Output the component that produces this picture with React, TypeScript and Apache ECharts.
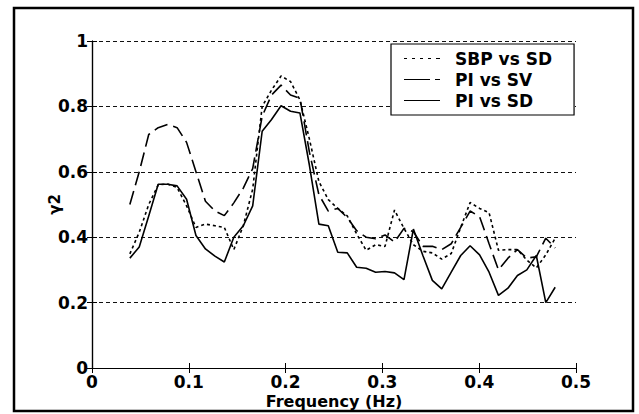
import React, { useEffect, useRef } from "react";
import * as echarts from "echarts";

const freq = [
  0.0391, 0.0488, 0.0586, 0.0684, 0.0781, 0.0879, 0.0977, 0.1074, 0.1172, 0.127,
  0.1367, 0.1465, 0.1563, 0.166, 0.1758, 0.1855, 0.1953, 0.2051, 0.2148, 0.2246,
  0.2344, 0.2441, 0.2539, 0.2637, 0.2734, 0.2832, 0.293, 0.3027, 0.3125, 0.3223,
  0.332, 0.3418, 0.3516, 0.3613, 0.3711, 0.3809, 0.3906, 0.4004, 0.4102, 0.4199,
  0.4297, 0.4395, 0.4492, 0.459, 0.4688, 0.4785,
];

const sbpSd = [
  0.349, 0.415, 0.5, 0.56, 0.563, 0.552, 0.496, 0.43, 0.44, 0.435,
  0.43, 0.362, 0.435, 0.547, 0.8, 0.85, 0.893, 0.876, 0.82, 0.7,
  0.57, 0.515, 0.488, 0.465, 0.41, 0.36, 0.377, 0.372, 0.483, 0.427,
  0.377, 0.357, 0.352, 0.333, 0.35, 0.43, 0.506, 0.488, 0.475, 0.36,
  0.362, 0.362, 0.33, 0.306, 0.346, 0.397,
];

const piSv = [
  0.5, 0.6, 0.714, 0.735, 0.745, 0.735, 0.69, 0.6, 0.51, 0.48,
  0.466, 0.505, 0.55, 0.61, 0.77, 0.835, 0.865, 0.835, 0.825, 0.66,
  0.53, 0.48, 0.488, 0.46, 0.42, 0.4, 0.395, 0.407, 0.385, 0.427,
  0.417, 0.372, 0.372, 0.362, 0.38, 0.43, 0.48, 0.463, 0.38, 0.3,
  0.336, 0.362, 0.336, 0.34, 0.397, 0.367,
];

const piSd = [
  0.336, 0.37, 0.465, 0.562, 0.562, 0.557, 0.516, 0.405, 0.364, 0.342,
  0.324, 0.4, 0.435, 0.496, 0.724, 0.76, 0.802, 0.785, 0.78, 0.62,
  0.44, 0.435, 0.354, 0.352, 0.308, 0.305, 0.293, 0.295, 0.291, 0.27,
  0.425, 0.344, 0.268, 0.242, 0.293, 0.344, 0.374, 0.346, 0.293, 0.222,
  0.244, 0.283, 0.3, 0.344, 0.2, 0.247,
];

const seriesNames = ["SBP vs SD", "PI vs SV", "PI vs SD"];

const FONT = "DejaVu Sans";

// legend sample glyphs (filled strips, stretched to itemWidth x itemHeight)
const iconDotted =
  "path://M0,0h3v1h-3zM8,0h3v1h-3zM16,0h3v1h-3zM24,0h3v1h-3zM32,0h4v1h-4z";
const iconDashed = "path://M0,0h26v1h-26zM31,0h5v1h-5z";
const iconSolid = "path://M0,0h36v1h-36z";

export default function App() {
  const ref = useRef<HTMLDivElement>(null);

  useEffect(() => {
    document.body.style.margin = "0";
    if (!ref.current) return;
    const chart = echarts.init(ref.current, undefined, { renderer: "svg" });

    const mk = (arr: number[]) => freq.map((f, i) => [f, arr[i]]);
    const axisLabel = {
      fontFamily: FONT,
      fontWeight: "bold" as const,
      fontSize: 17,
      color: "#000",
    };
    const LW = 1.6;

    chart.setOption({
      animation: false,
      backgroundColor: "#fff",
      graphic: [
        {
          type: "rect",
          silent: true,
          shape: { x: 14, y: 8, width: 619, height: 403 },
          style: { fill: "none", stroke: "#000", lineWidth: 2.5 },
        },
      ],
      grid: { left: 92, right: 63, top: 41, bottom: 43 },
      legend: {
        data: [
          { name: seriesNames[0], icon: iconDotted },
          { name: seriesNames[1], icon: iconDashed },
          { name: seriesNames[2], icon: iconSolid },
        ],
        orient: "vertical",
        left: 391,
        top: 44,
        padding: [6, 22, 6, 13],
        itemGap: 4,
        itemWidth: 36,
        itemHeight: 1.6,
        itemStyle: { color: "#000", borderWidth: 0 },
        borderColor: "#000",
        borderWidth: 1.2,
        backgroundColor: "#fff",
        textStyle: {
          fontFamily: FONT,
          fontWeight: "bold",
          fontSize: 17,
          color: "#000",
          padding: [0, 0, 0, 10],
        },
      },
      xAxis: [
        {
          type: "value",
          min: 0,
          max: 0.5,
          interval: 0.1,
          name: "Frequency (Hz)",
          nameLocation: "middle",
          nameGap: 25,
          nameMoveOverlap: false,
          nameTextStyle: { fontFamily: FONT, fontWeight: "bold", fontSize: 16, color: "#000" },
          axisLine: { show: true, lineStyle: { color: "#000", width: 1.2 } },
          axisTick: { show: true, inside: true, length: 5, lineStyle: { color: "#000" } },
          axisLabel: { ...axisLabel, margin: 5 },
          splitLine: { show: false },
        },
        {
          type: "value",
          position: "top",
          min: 0,
          max: 0.5,
          interval: 0.1,
          axisLine: { show: true, lineStyle: { color: "#000", width: 1.2 } },
          axisTick: { show: true, inside: true, length: 5, lineStyle: { color: "#000" } },
          axisLabel: { show: false },
          splitLine: { show: false },
        },
      ],
      yAxis: [
        {
          type: "value",
          min: 0,
          max: 1,
          interval: 0.2,
          name: "γ2",
          nameLocation: "middle",
          nameGap: 30,
          nameRotate: 90,
          nameMoveOverlap: false,
          nameTextStyle: { fontFamily: FONT, fontWeight: "bold", fontSize: 15, color: "#000" },
          axisLine: { show: true, lineStyle: { color: "#000", width: 1.2 } },
          axisTick: { show: true, inside: true, length: 5, lineStyle: { color: "#000" } },
          axisLabel: { ...axisLabel, margin: 4 },
          splitLine: {
            show: true,
            lineStyle: { color: "#111", width: 1.2, type: [4, 3] },
          },
        },
        {
          type: "value",
          position: "right",
          min: 0,
          max: 1,
          interval: 0.2,
          axisLine: { show: true, lineStyle: { color: "#000", width: 1.2 } },
          axisTick: { show: true, inside: true, length: 5, lineStyle: { color: "#000" } },
          axisLabel: { show: false },
          splitLine: { show: false },
        },
      ],
      series: [
        {
          name: seriesNames[0],
          type: "line",
          symbol: "none",
          data: mk(sbpSd),
          lineStyle: { color: "#000", width: LW, type: [3, 3] },
          itemStyle: { color: "#000" },
        },
        {
          name: seriesNames[1],
          type: "line",
          symbol: "none",
          data: mk(piSv),
          lineStyle: { color: "#000", width: LW, type: [14, 6] },
          itemStyle: { color: "#000" },
        },
        {
          name: seriesNames[2],
          type: "line",
          symbol: "none",
          data: mk(piSd),
          lineStyle: { color: "#000", width: LW },
          itemStyle: { color: "#000" },
        },
      ],
    });

    return () => chart.dispose();
  }, []);

  return <div ref={ref} style={{ width: 639, height: 414 }} />;
}
